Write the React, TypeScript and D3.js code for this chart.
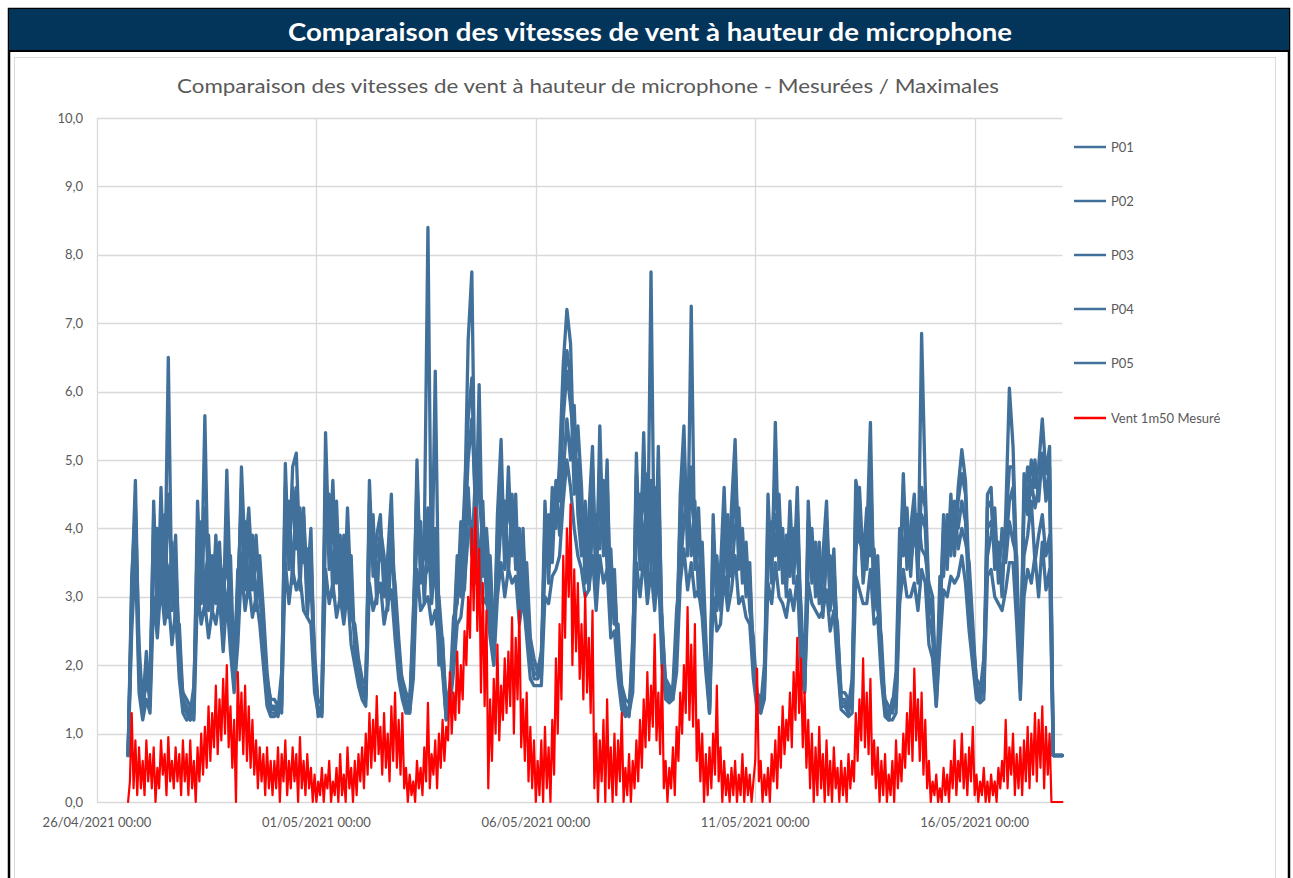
import React from "react";
import * as d3 from "d3";

// ---------- DATA ----------
const START = Date.UTC(2021, 3, 26, 17); // first sample 26/04/2021 17:00
const BLUE_STEP_HOURS = 2;
const RED_STEP_HOURS = 1;
const DOMAIN_START = Date.UTC(2021, 3, 26, 0);
const DOMAIN_END = Date.UTC(2021, 4, 18, 0);

const xTickDates = [Date.UTC(2021, 3, 26), Date.UTC(2021, 4, 1), Date.UTC(2021, 4, 6), Date.UTC(2021, 4, 11), Date.UTC(2021, 4, 16)];
const xTickLabels = ["26/04/2021 00:00", "01/05/2021 00:00", "06/05/2021 00:00", "11/05/2021 00:00", "16/05/2021 00:00"];
const yTicks = [0, 1, 2, 3, 4, 5, 6, 7, 8, 9, 10];
const seriesNames = ["P01", "P02", "P03", "P04", "P05", "Vent 1m50 Mesuré"];

// P01..P05: every 2 h from 26/04 17:00 (last point 18/05 00:00)
const P01 = [
  0.68, 3.1, 4.7, 2.0,
  1.3, 2.0, 1.4, 4.4, 2.6, 4.6, 3.0, 6.5, 2.8, 3.5, 2.2, 1.4,
  1.3, 1.2, 1.5, 4.4, 3.0, 5.65, 2.8, 3.6, 3.2, 3.8, 2.6, 4.85,
  3.0, 1.7, 2.6, 4.9, 3.6, 4.3, 3.3, 3.9, 3.0, 2.5, 1.5, 1.3,
  1.3, 1.25, 1.6, 4.95, 3.4, 4.9, 5.1, 3.6, 4.2, 3.2, 4.0, 1.8,
  1.25, 1.3, 5.4, 3.6, 4.7, 3.2, 3.9, 2.8, 4.3, 3.0, 2.4, 1.9,
  1.6, 1.5, 4.7, 3.3, 3.9, 4.2, 3.0, 3.6, 4.5, 2.7, 2.2, 1.6,
  1.4, 1.3, 2.4, 5.0, 3.2, 3.8, 8.4, 3.0, 6.3, 2.6, 2.0, 1.2,
  1.5, 2.4, 3.6, 3.0, 4.2, 6.75, 7.75, 3.8, 6.1, 3.3, 4.0, 3.2,
  2.0, 4.2, 5.3, 3.4, 4.9, 3.6, 4.5, 2.8, 4.0, 2.6, 2.2, 1.8,
  1.8, 2.0, 4.4, 3.2, 4.6, 4.0, 5.0, 6.4, 7.2, 6.7, 4.8, 5.5,
  4.6, 3.2, 4.2, 5.2, 3.0, 5.5, 3.6, 5.0, 2.6, 3.4, 2.0, 1.5,
  1.3, 1.25, 2.0, 5.1, 3.4, 5.4, 3.2, 7.75, 3.0, 5.2, 2.4, 1.6,
  1.5, 1.6, 2.2, 4.5, 5.5, 3.6, 7.25, 3.4, 4.3, 3.0, 2.2, 1.3,
  4.2, 2.8, 3.4, 4.6, 3.0, 4.3, 5.3, 3.4, 4.0, 3.0, 3.5, 2.0,
  1.4, 1.3, 1.8, 4.5, 3.2, 5.55, 3.4, 4.0, 3.0, 4.4, 3.2, 4.6,
  2.6, 1.6, 4.4, 3.2, 3.8, 2.9, 3.6, 4.4, 2.8, 3.7, 2.2, 1.4,
  1.4, 1.3, 1.6, 4.7, 4.4, 3.2, 3.8, 5.55, 2.8, 3.6, 2.2, 1.3,
  1.2, 1.5, 1.4, 3.2, 4.8, 3.4, 4.0, 4.5, 3.2, 6.85, 4.6, 3.0,
  2.8, 1.4, 2.6, 4.2, 3.4, 4.5, 3.6, 4.6, 5.15, 4.7, 3.2, 2.2,
  1.6, 1.5, 1.8, 4.5, 4.6, 3.4, 3.8, 3.0, 4.2, 6.05, 5.2, 3.4,
  1.6, 4.8, 4.4, 5.0, 4.6, 4.9, 5.6, 4.8, 5.2, 0.68, 0.68, 0.68,
  0.68,
];

const P02 = [
  0.68, 2.8, 4.2, 1.8,
  1.5, 1.7, 1.6, 3.9, 3.2, 3.8, 3.6, 3.4, 3.0, 3.9, 2.0, 1.6,
  1.5, 1.4, 1.3, 3.8, 3.4, 3.3, 3.6, 3.2, 3.7, 3.3, 2.9, 3.9,
  2.6, 1.9, 3.2, 4.3, 3.1, 3.9, 3.8, 3.4, 3.5, 2.2, 1.8, 1.5,
  1.5, 1.4, 1.3, 4.3, 3.9, 4.4, 3.7, 4.3, 3.5, 3.7, 3.2, 2.0,
  1.45, 1.5, 4.6, 4.0, 3.8, 3.7, 3.2, 3.5, 3.6, 2.7, 2.6, 2.1,
  1.8, 1.7, 4.1, 3.7, 3.4, 3.6, 3.5, 3.2, 3.8, 3.0, 2.0, 1.8,
  1.6, 1.5, 2.1, 4.4, 3.6, 3.3, 3.4, 3.6, 3.2, 3.0, 2.3, 1.4,
  1.7, 2.1, 3.2, 3.5, 3.8, 5.0, 5.6, 4.4, 4.5, 3.8, 3.5, 2.8,
  2.3, 3.7, 4.4, 3.9, 4.2, 4.1, 3.8, 3.3, 3.5, 3.0, 2.0, 2.0,
  2.0, 1.8, 3.8, 3.7, 4.0, 4.4, 4.4, 5.6, 6.3, 5.8, 5.2, 4.6,
  4.0, 3.8, 3.6, 4.5, 3.5, 4.6, 4.1, 4.3, 3.0, 2.9, 2.3, 1.7,
  1.5, 1.45, 1.8, 4.4, 3.9, 4.6, 3.8, 4.3, 3.5, 4.4, 2.1, 1.8,
  1.7, 1.5, 2.5, 3.9, 4.7, 4.1, 4.5, 3.9, 3.7, 3.4, 2.0, 1.5,
  3.7, 3.2, 3.0, 4.0, 3.6, 3.8, 4.5, 3.8, 3.5, 3.4, 3.0, 2.2,
  1.6, 1.5, 1.6, 3.9, 3.7, 4.2, 3.8, 3.5, 3.5, 3.8, 3.6, 4.0,
  2.3, 1.8, 3.9, 3.6, 3.3, 3.4, 3.2, 3.9, 3.2, 3.2, 2.5, 1.6,
  1.6, 1.5, 1.4, 4.1, 3.8, 3.7, 3.4, 4.2, 3.2, 3.1, 2.0, 1.5,
  1.4, 1.3, 1.6, 3.6, 4.2, 3.9, 3.5, 3.9, 3.6, 4.2, 4.0, 2.7,
  2.4, 1.6, 2.9, 3.7, 3.9, 4.0, 4.1, 4.0, 4.4, 4.1, 2.9, 2.4,
  1.8, 1.7, 1.6, 4.0, 4.1, 3.8, 3.4, 3.4, 3.7, 4.4, 4.6, 3.0,
  1.8, 4.3, 4.9, 4.5, 5.0, 4.4, 5.1, 4.4, 4.7, 0.68, 0.68, 0.68,
  0.68,
];

const P03 = [
  0.68, 2.5, 3.6, 1.6,
  1.2, 1.5, 1.3, 3.0, 2.4, 3.2, 2.6, 3.0, 2.3, 2.8, 1.8, 1.3,
  1.2, 1.25, 1.2, 3.1, 2.6, 2.9, 2.4, 2.8, 2.6, 3.0, 2.2, 3.0,
  2.2, 1.6, 2.3, 3.4, 2.8, 3.2, 2.7, 3.0, 2.6, 2.0, 1.4, 1.25,
  1.25, 1.3, 1.4, 3.5, 2.9, 3.4, 3.1, 3.3, 2.8, 2.7, 2.6, 1.6,
  1.3, 1.25, 3.4, 2.9, 3.2, 2.7, 3.0, 2.6, 3.1, 2.3, 2.0, 1.7,
  1.5, 1.4, 3.2, 2.8, 3.0, 3.2, 2.6, 2.9, 3.1, 2.4, 1.8, 1.5,
  1.3, 1.3, 1.8, 3.4, 2.8, 2.9, 3.0, 2.6, 2.8, 2.3, 1.9, 1.2,
  1.4, 1.9, 2.6, 2.7, 3.2, 3.9, 4.1, 3.2, 3.5, 2.9, 3.0, 2.4,
  2.0, 3.0, 3.5, 3.0, 3.4, 3.2, 3.3, 2.6, 3.0, 2.4, 1.8, 1.7,
  1.7, 1.7, 3.0, 2.9, 3.3, 3.4, 3.6, 4.4, 5.0, 4.6, 4.0, 3.6,
  3.4, 3.0, 3.1, 3.6, 2.8, 3.6, 3.2, 3.4, 2.4, 2.5, 1.8, 1.35,
  1.25, 1.3, 1.6, 3.5, 3.0, 3.6, 2.9, 3.4, 2.8, 3.5, 2.0, 1.5,
  1.45, 1.5, 1.9, 3.2, 3.7, 3.1, 3.5, 3.0, 3.1, 2.7, 1.9, 1.3,
  3.0, 2.5, 2.6, 3.3, 2.8, 3.1, 3.6, 2.9, 3.0, 2.7, 2.6, 1.8,
  1.35, 1.3, 1.5, 3.2, 2.9, 3.5, 3.0, 2.9, 2.7, 3.1, 2.8, 3.3,
  2.0, 1.6, 3.2, 2.9, 2.8, 2.7, 2.8, 3.1, 2.5, 2.8, 2.0, 1.35,
  1.3, 1.25, 1.3, 3.3, 3.1, 2.9, 2.9, 3.4, 2.6, 2.7, 1.8, 1.25,
  1.2, 1.2, 1.3, 2.9, 3.4, 3.0, 3.0, 3.2, 2.8, 3.4, 3.2, 2.3,
  2.1, 1.4, 2.3, 3.1, 3.0, 3.3, 3.2, 3.3, 3.6, 3.2, 2.5, 2.0,
  1.5, 1.45, 1.5, 3.3, 3.4, 3.0, 2.9, 2.8, 3.1, 3.5, 3.5, 2.6,
  1.5, 3.0, 3.4, 3.2, 3.6, 3.0, 3.8, 3.1, 3.4, 0.68, 0.68, 0.68,
  0.68,
];

const P04 = [
  0.68, 3.3, 4.3, 2.3,
  1.4, 2.2, 1.5, 3.5, 4.0, 2.9, 4.2, 2.7, 3.8, 2.5, 2.6, 1.5,
  1.4, 1.3, 1.7, 3.2, 4.1, 2.8, 3.9, 2.7, 3.9, 2.8, 3.4, 2.7,
  3.6, 1.9, 3.4, 3.4, 4.1, 3.0, 3.9, 2.8, 3.6, 2.8, 1.9, 1.4,
  1.4, 1.35, 1.9, 3.6, 4.4, 3.2, 4.6, 3.1, 4.3, 2.7, 3.5, 2.2,
  1.35, 1.4, 4.0, 4.5, 3.0, 4.4, 2.9, 3.9, 2.9, 3.6, 2.2, 1.8,
  1.7, 1.6, 3.6, 4.2, 2.9, 4.0, 3.6, 2.8, 3.6, 3.2, 2.4, 1.7,
  1.5, 1.4, 2.8, 3.8, 4.1, 2.9, 4.0, 2.9, 3.6, 2.0, 2.4, 1.3,
  1.6, 2.7, 2.9, 4.1, 3.1, 4.6, 3.6, 4.8, 3.2, 4.4, 2.9, 3.6,
  2.4, 3.2, 4.1, 4.4, 3.3, 4.5, 3.4, 4.0, 2.9, 3.5, 2.4, 2.1,
  1.9, 2.2, 3.4, 4.2, 3.5, 4.7, 3.9, 4.8, 5.6, 5.0, 5.8, 4.2,
  3.6, 4.4, 3.1, 4.0, 4.2, 3.7, 4.7, 3.4, 3.7, 2.6, 2.6, 1.6,
  1.4, 1.3, 2.4, 3.8, 4.5, 3.6, 4.8, 3.4, 4.6, 3.1, 2.7, 1.7,
  1.6, 1.7, 2.8, 3.4, 4.1, 4.6, 3.6, 4.4, 3.0, 3.8, 2.4, 1.4,
  3.4, 3.6, 2.8, 3.5, 4.2, 3.3, 4.0, 4.3, 3.2, 3.8, 2.8, 2.4,
  1.5, 1.4, 2.0, 3.4, 4.1, 3.6, 4.5, 3.2, 3.9, 3.3, 4.0, 3.6,
  2.9, 1.7, 3.4, 4.0, 3.0, 3.8, 2.7, 3.6, 3.6, 2.9, 2.6, 1.5,
  1.5, 1.4, 1.8, 3.6, 4.6, 3.5, 4.3, 3.6, 3.7, 2.8, 2.4, 1.4,
  1.3, 1.4, 1.9, 4.0, 3.6, 4.3, 3.3, 4.2, 4.2, 3.7, 3.6, 3.2,
  3.0, 1.5, 3.3, 3.3, 4.2, 3.6, 4.4, 3.7, 4.0, 3.8, 3.5, 2.6,
  1.7, 1.6, 2.1, 3.6, 3.9, 4.3, 3.2, 4.0, 3.5, 4.1, 3.8, 3.6,
  1.7, 3.6, 3.9, 4.4, 3.5, 3.9, 4.2, 3.6, 3.9, 0.68, 0.68, 0.68,
  0.68,
];

const P05 = [
  0.68, 2.9, 3.9, 2.1,
  1.35, 1.8, 1.7, 4.2, 3.4, 4.1, 2.8, 4.5, 3.3, 3.1, 2.4, 1.45,
  1.35, 1.2, 1.6, 4.0, 2.9, 4.3, 3.3, 3.4, 2.9, 3.6, 3.1, 3.5,
  2.9, 1.8, 2.9, 4.6, 3.4, 4.0, 3.1, 3.6, 3.2, 2.4, 1.6, 1.35,
  1.35, 1.3, 1.7, 4.6, 3.6, 4.6, 4.2, 3.9, 3.9, 3.0, 3.7, 1.9,
  1.3, 1.35, 4.9, 3.4, 4.3, 3.5, 3.6, 3.1, 4.0, 2.8, 2.5, 2.0,
  1.65, 1.55, 4.4, 3.5, 3.6, 3.9, 3.2, 3.4, 4.2, 2.9, 2.1, 1.7,
  1.45, 1.35, 2.6, 4.7, 3.4, 3.6, 4.3, 3.2, 4.0, 2.8, 2.2, 1.25,
  1.55, 2.3, 3.4, 3.3, 4.5, 5.6, 6.2, 4.1, 5.0, 3.6, 3.8, 3.0,
  2.2, 3.9, 4.8, 3.6, 4.6, 3.9, 4.2, 3.1, 3.8, 2.8, 2.1, 1.9,
  1.85, 1.9, 4.1, 3.5, 4.3, 4.2, 4.7, 6.0, 6.6, 6.2, 4.5, 5.0,
  4.3, 3.5, 3.9, 4.9, 3.3, 5.0, 3.9, 4.7, 2.8, 3.2, 2.2, 1.6,
  1.35, 1.3, 2.2, 4.8, 3.7, 5.0, 3.5, 4.7, 3.3, 4.8, 2.6, 1.7,
  1.55, 1.65, 2.4, 4.2, 5.1, 3.9, 4.9, 3.7, 4.0, 3.2, 2.1, 1.35,
  3.9, 3.0, 3.2, 4.3, 3.3, 4.0, 4.9, 3.6, 3.8, 3.2, 3.3, 2.1,
  1.45, 1.35, 1.7, 4.2, 3.5, 4.9, 3.6, 3.8, 3.2, 4.1, 3.4, 4.3,
  2.5, 1.65, 4.1, 3.4, 3.6, 3.1, 3.4, 4.1, 3.0, 3.5, 2.3, 1.45,
  1.45, 1.35, 1.5, 4.4, 4.1, 3.4, 3.6, 4.9, 3.0, 3.4, 2.1, 1.35,
  1.25, 1.45, 1.5, 3.4, 4.5, 3.6, 3.8, 4.3, 3.4, 4.6, 4.3, 2.9,
  2.7, 1.5, 2.7, 4.0, 3.6, 4.3, 3.8, 4.4, 4.8, 4.5, 3.0, 2.3,
  1.65, 1.55, 1.7, 4.3, 4.4, 3.6, 3.6, 3.2, 4.0, 4.9, 4.9, 3.2,
  1.65, 4.5, 4.2, 4.7, 4.3, 4.6, 5.0, 4.5, 4.9, 0.68, 0.68, 0.68,
  0.68,
];

// Vent 1m50 Mesuré: every hour from 26/04 17:00 to 18/05 00:00
const VENT = [
  0.0, 0.3, 1.3, 0.2, 0.9, 0.1, 0.8,
  0.2, 0.6, 0.1, 0.9, 0.3, 0.7, 0.2, 0.8, 0.0, 0.5, 0.2, 0.9, 0.4, 0.7, 0.1, 0.95, 0.3, 0.6, 0.2, 0.8, 0.3, 0.7, 0.1, 0.9,
  0.3, 0.7, 0.1, 0.9, 0.2, 0.6, 0.0, 0.8, 0.3, 1.0, 0.4, 1.1, 0.5, 1.4, 0.6, 1.3, 0.8, 1.7, 0.7, 1.5, 0.9, 1.8, 1.0, 2.0,
  0.8, 1.4, 0.5, 1.2, 0.0, 1.9, 0.9, 1.6, 0.7, 1.7, 0.6, 1.4, 0.5, 1.2, 0.4, 0.9, 0.2, 0.8, 0.3, 0.7, 0.1, 0.8, 0.2, 0.6,
  0.1, 0.6, 0.2, 0.8, 0.0, 0.7, 0.3, 0.9, 0.1, 0.6, 0.2, 0.8, 0.3, 0.7, 0.0, 0.95, 0.2, 0.6, 0.1, 0.7, 0.2, 0.5, 0.0, 0.4,
  0.0, 0.3, 0.1, 0.5, 0.0, 0.4, 0.2, 0.6, 0.0, 0.3, 0.1, 0.5, 0.0, 0.7, 0.1, 0.4, 0.0, 0.8, 0.2, 0.5, 0.0, 0.6, 0.1, 0.7,
  0.3, 0.8, 0.2, 1.0, 0.4, 1.3, 0.5, 1.2, 0.6, 1.55, 0.7, 1.1, 0.4, 1.3, 0.5, 1.0, 0.3, 1.4, 0.6, 1.6, 0.5, 1.2, 0.4, 1.3,
  0.2, 0.5, 0.0, 0.4, 0.1, 0.3, 0.0, 0.6, 0.2, 0.5, 0.1, 0.8, 0.3, 1.45, 0.2, 0.7, 0.4, 0.9, 0.2, 1.0, 0.5, 1.2, 0.6, 1.1,
  0.9, 1.9, 1.0, 1.6, 1.2, 2.2, 1.3, 2.0, 1.5, 2.5, 2.0, 3.0, 2.4, 4.0, 2.8, 4.3, 2.5, 3.7, 1.6, 3.2, 1.4, 2.8, 0.2, 1.5,
  0.6, 1.8, 1.0, 2.3, 0.9, 1.7, 1.2, 2.1, 1.3, 2.2, 1.4, 2.7, 1.0, 2.4, 1.5, 2.8, 0.8, 1.5, 0.6, 1.6, 0.3, 1.1, 0.2, 0.9,
  0.0, 0.6, 0.1, 0.9, 0.0, 1.1, 0.2, 0.8, 0.0, 1.2, 0.4, 2.1, 1.0, 2.6, 1.5, 3.6, 2.4, 4.0, 3.0, 4.35, 2.0, 3.4, 2.2, 3.2,
  1.8, 2.6, 1.5, 3.05, 1.6, 2.4, 1.3, 2.8, 0.2, 1.0, 0.0, 0.9, 0.3, 1.2, 0.0, 1.5, 0.2, 0.8, 0.0, 1.0, 0.1, 0.9, 0.3, 1.3,
  0.0, 0.5, 0.1, 0.7, 0.0, 0.6, 0.2, 0.9, 0.3, 1.2, 0.5, 1.5, 0.8, 1.9, 0.9, 1.7, 1.1, 2.45, 0.9, 1.6, 0.7, 2.0, 0.2, 0.6,
  0.0, 0.5, 0.2, 0.8, 0.1, 1.1, 0.6, 1.6, 1.0, 2.0, 1.3, 2.85, 1.2, 2.3, 1.1, 2.6, 0.6, 1.2, 0.3, 1.0, 0.0, 0.7, 0.1, 0.8,
  0.2, 1.0, 0.4, 1.7, 0.3, 0.8, 0.0, 0.6, 0.1, 0.4, 0.0, 0.5, 0.1, 0.6, 0.0, 0.4, 0.1, 0.7, 0.0, 0.5, 0.1, 0.4, 0.0, 0.3,
  0.6, 1.95, 0.3, 0.6, 0.0, 0.4, 0.1, 0.5, 0.0, 0.7, 0.3, 0.9, 0.2, 1.1, 0.5, 1.4, 0.7, 1.2, 0.9, 1.6, 0.8, 1.9, 1.2, 2.4,
  1.3, 2.1, 0.8, 1.6, 0.5, 1.2, 0.2, 1.0, 0.0, 0.8, 0.1, 1.1, 0.2, 0.7, 0.0, 0.9, 0.1, 0.6, 0.0, 0.8, 0.2, 0.5, 0.0, 0.6,
  0.1, 0.5, 0.0, 0.7, 0.2, 0.6, 0.3, 1.3, 0.6, 1.5, 0.9, 2.1, 0.8, 1.6, 0.7, 1.8, 0.4, 0.9, 0.2, 0.8, 0.0, 0.6, 0.1, 0.7,
  0.0, 0.4, 0.1, 0.6, 0.0, 0.9, 0.2, 0.7, 0.3, 1.0, 0.5, 1.3, 0.7, 1.6, 0.6, 1.95, 0.9, 1.5, 0.6, 1.6, 0.4, 1.2, 0.2, 0.6,
  0.0, 0.3, 0.1, 0.4, 0.0, 0.2, 0.0, 0.5, 0.1, 0.4, 0.0, 0.6, 0.2, 0.9, 0.1, 0.6, 0.3, 1.0, 0.2, 0.7, 0.1, 0.8, 0.3, 1.1,
  0.1, 0.4, 0.0, 0.3, 0.1, 0.5, 0.0, 0.3, 0.0, 0.4, 0.1, 0.3, 0.0, 0.5, 0.2, 0.6, 0.3, 1.2, 0.2, 0.8, 0.4, 1.0, 0.1, 0.7,
  0.2, 0.8, 0.1, 0.9, 0.3, 1.1, 0.2, 1.0, 0.4, 1.3, 0.3, 1.2, 0.5, 1.4, 0.2, 1.1, 0.4, 1.0, 0.0, 0.0, 0.0, 0.0, 0.0, 0.0,
  0.0,
];

const seriesValues = [P01, P02, P03, P04, P05, VENT];
const seriesSteps = [BLUE_STEP_HOURS, BLUE_STEP_HOURS, BLUE_STEP_HOURS, BLUE_STEP_HOURS, BLUE_STEP_HOURS, RED_STEP_HOURS];
const seriesColors = ["#41709b", "#41709b", "#41709b", "#41709b", "#41709b", "#ff0000"];

// ---------- CHART ----------
const FONT = "Lato, 'Open Sans', 'DejaVu Sans', sans-serif";
const GRID = "#d9d9d9";
const LABEL = "#595959";

export default function App() {
  const W = 1293;
  const H = 878;
  const x = d3
    .scaleUtc()
    .domain([new Date(DOMAIN_START), new Date(DOMAIN_END)])
    .range([97, 1062.4]);
  const y = d3.scaleLinear().domain([0, 10]).range([802, 118]);
  const pathFor = (vals: number[], stepH: number) =>
    d3
      .line<number>()
      .x((_, i) => x(new Date(Math.min(START + i * stepH * 3600000, DOMAIN_END))))
      .y((d) => y(d))(vals) || "";
  const fmt = (v: number) => d3.format(".1f")(v).replace(".", ",");
  const legendY = [147, 201, 255, 309, 363, 418];

  return (
    <svg
      width={W}
      height={H}
      viewBox={`0 0 ${W} ${H}`}
      style={{ position: "absolute", left: 0, top: 0, display: "block", background: "#fff" }}
      fontFamily={FONT}
    >
      {/* outer frame */}
      <rect x={9} y={9} width={1280} height={H + 20} fill="#fff" stroke="#000" strokeWidth={2.5} />
      {/* header */}
      <rect x={9} y={9} width={1280} height={41} fill="#03345a" />
      <line x1={9} x2={1289} y1={51} y2={51} stroke="#000" strokeWidth={2} />
      <text
        x={650}
        y={41}
        textAnchor="middle"
        fill="#fff"
        fontSize={25}
        fontWeight={700}
        textLength={724}
        lengthAdjust="spacingAndGlyphs"
      >
        Comparaison des vitesses de vent à hauteur de microphone
      </text>
      {/* chart area border */}
      <rect x={14.5} y={57.5} width={1261} height={H} fill="#fff" stroke={GRID} strokeWidth={1} />
      {/* chart title */}
      <text
        x={588}
        y={93}
        textAnchor="middle"
        fill={LABEL}
        fontSize={19}
        textLength={822}
        lengthAdjust="spacingAndGlyphs"
      >
        Comparaison des vitesses de vent à hauteur de microphone - Mesurées / Maximales
      </text>

      {/* gridlines */}
      {yTicks.map((t) => (
        <line key={"gy" + t} x1={97} x2={1062.4} y1={Math.round(y(t)) + 0.5} y2={Math.round(y(t)) + 0.5} stroke={GRID} strokeWidth={1.3} />
      ))}
      {xTickDates.map((t) => (
        <line
          key={"gx" + t}
          x1={Math.round(x(new Date(t))) + 0.5}
          x2={Math.round(x(new Date(t))) + 0.5}
          y1={118}
          y2={802}
          stroke={GRID}
          strokeWidth={1.3}
        />
      ))}

      {/* y labels */}
      {yTicks.map((t) => (
        <text key={"ly" + t} x={83} y={y(t) + 4.5} textAnchor="end" fill={LABEL} fontSize={13}>
          {fmt(t)}
        </text>
      ))}
      {/* x labels */}
      {xTickDates.map((t, i) => (
        <text key={"lx" + t} x={x(new Date(t))} y={827} textAnchor="middle" fill={LABEL} fontSize={13}>
          {xTickLabels[i]}
        </text>
      ))}

      {/* series */}
      {seriesValues.map((vals, i) => (
        <path
          key={"s" + i}
          d={pathFor(vals, seriesSteps[i])}
          fill="none"
          stroke={seriesColors[i]}
          strokeWidth={i === 5 ? 2.2 : 3.3}
          strokeLinejoin="round"
          strokeLinecap="round"
        />
      ))}

      {/* legend */}
      {seriesNames.map((name, i) => (
        <g key={"lg" + i}>
          <line x1={1074} x2={1106} y1={legendY[i]} y2={legendY[i]} stroke={seriesColors[i]} strokeWidth={2.5} />
          <text x={1111} y={legendY[i] + 4.5} fill={LABEL} fontSize={13}>
            {name}
          </text>
        </g>
      ))}
    </svg>
  );
}
